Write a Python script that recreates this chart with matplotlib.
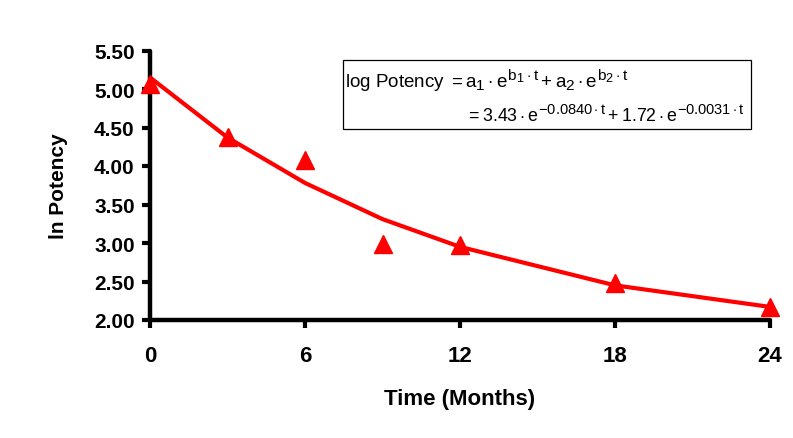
import matplotlib
matplotlib.use("Agg")
import matplotlib.pyplot as plt
import matplotlib._mathtext as mathtext_engine
from matplotlib.patches import Rectangle
from matplotlib.ticker import FormatStrFormatter

# Observed log potency over storage time
months = [0, 3, 6, 9, 12, 18, 24]
log_potency = [5.07, 4.38, 4.08, 2.99, 2.98, 2.48, 2.17]

# Bi-exponential fit evaluated at the sampling times
fit_months = [0, 3, 6, 9, 12, 18, 24]
fit_values = [5.15, 4.37, 3.78, 3.31, 2.95, 2.45, 2.17]

x_ticks = [0, 6, 12, 18, 24]
y_ticks = [2.0, 2.5, 3.0, 3.5, 4.0, 4.5, 5.0, 5.5]

plt.rcParams["font.family"] = ["Liberation Sans", "DejaVu Sans"]
plt.rcParams["mathtext.fontset"] = "custom"
plt.rcParams["mathtext.rm"] = "Liberation Sans"
plt.rcParams["mathtext.it"] = "Liberation Sans"
plt.rcParams["mathtext.bf"] = "Liberation Sans:bold"
# larger exponents, equation-editor style
mathtext_engine.SHRINK_FACTOR = 0.82

W, H = 793, 439
fig = plt.figure(figsize=(W / 100, H / 100), dpi=100)
ax = fig.add_axes([150 / W, 1 - 321 / H, 620 / W, (321 - 51.5) / H])

red = "#ff0000"
ax.plot(fit_months, fit_values, color=red, lw=3, solid_capstyle="butt", zorder=2, clip_on=False)
ax.plot(months, log_potency, linestyle="none", marker="^", markersize=13,
        color=red, zorder=3, clip_on=False)

ax.set_xlim(0, 24)
ax.set_ylim(2.0, 5.5)
ax.set_xticks(x_ticks)
ax.set_yticks(y_ticks)
ax.yaxis.set_major_formatter(FormatStrFormatter("%.2f"))

for side in ("top", "right"):
    ax.spines[side].set_visible(False)
for side in ("left", "bottom"):
    ax.spines[side].set_linewidth(3.2)
    ax.spines[side].set_capstyle("round")

ax.tick_params(axis="y", direction="out", length=6, width=3, pad=5,
               labelsize=15)
ax.tick_params(axis="x", direction="out", length=6, width=3, pad=12,
               labelsize=16)
for lbl in ax.get_xticklabels() + ax.get_yticklabels():
    lbl.set_fontweight("bold")

ax.set_xlabel("Time (Months)", fontsize=16, fontweight="bold", labelpad=16)
ax.set_ylabel("ln Potency", fontsize=15, fontweight="bold", labelpad=19)

# Equation box
fig.patches.append(Rectangle((343 / W, 1 - 130 / H), 408 / W, 69 / H,
                             transform=fig.transFigure, fill=False,
                             edgecolor="black", lw=0.9))
fig.text(345 / W, 1 - 88 / H,
         r"log Potency $= a_1 \cdot e^{b_1 \cdot t} + a_2 \cdot e^{b_2 \cdot t}$",
         fontsize=13.5, ha="left", va="baseline")
fig.text(745 / W, 1 - 122 / H,
         r"$= 3.43 \cdot e^{-0.0840 \cdot t} + 1.72 \cdot e^{-0.0031 \cdot t}$",
         fontsize=12.8, ha="right", va="baseline")

fig.savefig("out.png", dpi=100)
